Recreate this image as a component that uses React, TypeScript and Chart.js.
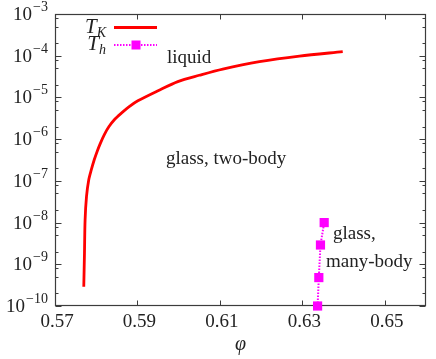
import React, { useEffect, useRef } from "react";
import { Chart, registerables } from "chart.js";

Chart.register(...registerables);

// T_K curve (red)
const tkPhi = [0.57698, 0.57715, 0.57730, 0.57764, 0.57818, 0.57878, 0.57952, 0.5802, 0.5810, 0.5820, 0.5831, 0.5845, 0.5861, 0.5880, 0.5901, 0.5950, 0.5998, 0.6050, 0.6107, 0.6196, 0.6293, 0.6398];
const tkT = [2.9e-10, 1.85e-9, 1.15e-8, 4.2e-8, 1.05e-7, 1.8e-7, 3.2e-7, 5.0e-7, 7.9e-7, 1.3e-6, 2.0e-6, 3.0e-6, 4.2e-6, 6.0e-6, 8.3e-6, 1.45e-5, 2.4e-5, 3.4e-5, 4.8e-5, 7.2e-5, 9.8e-5, 1.25e-4];

// T_h points (magenta)
const thPhi = [0.6337, 0.6340, 0.6344, 0.6353];
const thT = [1.0e-10, 4.8e-10, 2.9e-9, 1.0e-8];

const xTicks = [0.57, 0.59, 0.61, 0.63, 0.65];
const yExponents = [-10, -9, -8, -7, -6, -5, -4, -3];
const yMinorMult = [2, 5, 8];
const xTitle = "φ";

const SERIF = '"Liberation Serif", "DejaVu Serif", serif';

export default function App() {
  const ref = useRef<HTMLCanvasElement>(null);

  useEffect(() => {
    const canvas = ref.current;
    if (!canvas) return;

    const frame = {
      id: "frame",
      beforeDatasetsDraw(chart: any) {
        const ctx = chart.ctx;
        const { left, right, top, bottom } = chart.chartArea;
        const xs = chart.scales.x;
        const ys = chart.scales.y;
        ctx.save();
        ctx.strokeStyle = "#3c3c3c";
        ctx.lineWidth = 1.2;
        const L = Math.round(left) + 0.5, R = Math.round(right) - 0.5;
        const T = Math.round(top) + 0.5, B = Math.round(bottom) - 0.5;
        ctx.strokeRect(L, T, R - L, B - T);
        ctx.lineWidth = 1;
        ctx.beginPath();
        for (const v of xTicks) {
          const px = Math.round(xs.getPixelForValue(v)) + 0.5;
          ctx.moveTo(px, B); ctx.lineTo(px, B - 5);
          ctx.moveTo(px, T); ctx.lineTo(px, T + 5);
        }
        for (const e of yExponents) {
          const py = Math.round(ys.getPixelForValue(Math.pow(10, e))) + 0.5;
          ctx.moveTo(L, py); ctx.lineTo(L + 6, py);
          ctx.moveTo(R, py); ctx.lineTo(R - 6, py);
          if (e < -3) {
            for (const m of yMinorMult) {
              const pm = Math.round(ys.getPixelForValue(m * Math.pow(10, e))) + 0.5;
              ctx.moveTo(L, pm); ctx.lineTo(L + 3, pm);
              ctx.moveTo(R, pm); ctx.lineTo(R - 3, pm);
            }
          }
        }
        ctx.stroke();
        ctx.restore();
      },
      afterDraw(chart: any) {
        const ctx = chart.ctx;
        const { left, right, bottom } = chart.chartArea;
        const xs = chart.scales.x;
        const ys = chart.scales.y;
        ctx.save();
        ctx.fillStyle = "#222";
        ctx.textBaseline = "alphabetic";
        // x tick labels
        ctx.font = `19px ${SERIF}`;
        ctx.textAlign = "center";
        for (const v of xTicks) {
          ctx.fillText(v.toFixed(2), xs.getPixelForValue(v) + 2, bottom + 21);
        }
        // y tick labels 10^e
        for (const e of yExponents) {
          const py = ys.getPixelForValue(Math.pow(10, e));
          const exp = "\u2212" + Math.abs(e);
          ctx.font = `14px ${SERIF}`;
          const ew = ctx.measureText(exp).width;
          ctx.textAlign = "left";
          const xr = left - 7;
          ctx.fillText(exp, xr - ew, py - 3);
          ctx.font = `19px ${SERIF}`;
          ctx.textAlign = "right";
          ctx.fillText("10", xr - ew - 1, py + 6);
        }
        // x title
        ctx.font = `italic 20px ${SERIF}`;
        ctx.textAlign = "center";
        ctx.fillText(xTitle, (left + right) / 2, bottom + 44);

        // annotations
        ctx.font = `19px ${SERIF}`;
        ctx.textAlign = "left";
        ctx.fillText("liquid", 167, 63);
        ctx.fillText("glass, two-body", 166, 164);
        ctx.fillText("glass,", 333, 239);
        ctx.fillText("many-body", 326, 267);

        // legend
        const drawSym = (main: string, sub: string, xr: number, base: number) => {
          ctx.font = `italic 14px ${SERIF}`;
          const sw = ctx.measureText(sub).width;
          ctx.textAlign = "left";
          ctx.fillText(sub, xr - sw, base + 4);
          ctx.font = `italic 21px ${SERIF}`;
          ctx.textAlign = "right";
          ctx.fillText(main, xr - sw, base);
        };
        ctx.fillStyle = "#222";
        drawSym("T", "K", 106, 33);
        drawSym("T", "h", 106, 50);
        ctx.strokeStyle = "#ff0000";
        ctx.lineWidth = 2.8;
        ctx.beginPath();
        ctx.moveTo(114, 27.5); ctx.lineTo(157, 27.5);
        ctx.stroke();
        ctx.strokeStyle = "#ff00ff";
        ctx.lineWidth = 2;
        ctx.setLineDash([1.5, 1.5]);
        ctx.beginPath();
        ctx.moveTo(114, 45); ctx.lineTo(157, 45);
        ctx.stroke();
        ctx.setLineDash([]);
        ctx.fillStyle = "#ff00ff";
        ctx.fillRect(131.5, 40.5, 9, 9);
        ctx.restore();
      },
    };

    const chart = new Chart(canvas, {
      type: "line",
      data: {
        datasets: [
          {
            label: "T_K",
            data: tkPhi.map((x, i) => ({ x, y: tkT[i] })),
            borderColor: "#ff0000",
            backgroundColor: "#ff0000",
            borderWidth: 2.8,
            pointRadius: 0,
            tension: 0.3,
            borderJoinStyle: "round",
            fill: false,
          },
          {
            label: "T_h",
            data: thPhi.map((x, i) => ({ x, y: thT[i] })),
            borderColor: "#ff00ff",
            backgroundColor: "#ff00ff",
            borderWidth: 2,
            borderDash: [1.5, 1.5],
            tension: 0,
            pointStyle: "rect",
            pointRadius: 6.5,
            pointBorderWidth: 0,
            pointBackgroundColor: "#ff00ff",
            fill: false,
            clip: false,
          } as any,
        ],
      },
      options: {
        responsive: false,
        animation: false,
        events: [],
        layout: { padding: { left: 55, right: 10, top: 14, bottom: 53 } },
        scales: {
          x: { type: "linear", min: 0.57, max: 0.66, display: false },
          y: { type: "logarithmic", min: 1e-10, max: 1e-3, display: false },
        },
        plugins: { legend: { display: false }, tooltip: { enabled: false } },
      },
      plugins: [frame],
    });

    return () => chart.destroy();
  }, []);

  return (
    <div style={{ position: "absolute", left: 0, top: 0, width: 436, height: 359, background: "#fff" }}>
      <canvas ref={ref} width={436} height={359} style={{ display: "block" }} />
    </div>
  );
}
